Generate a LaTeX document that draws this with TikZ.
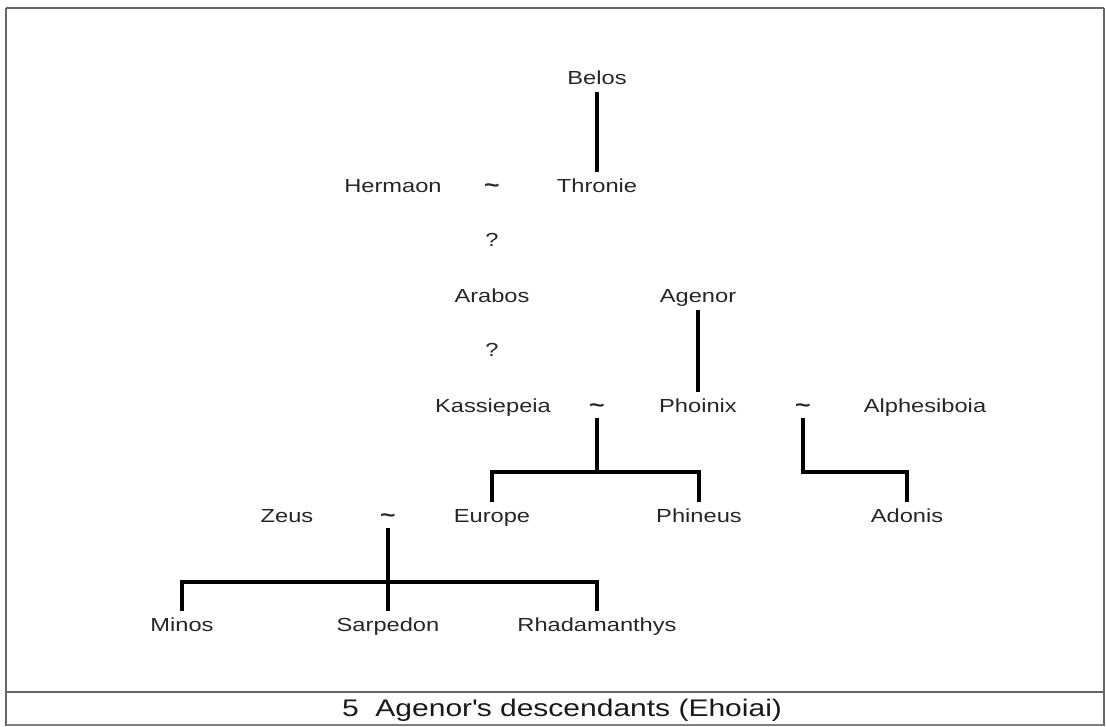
\documentclass[tikz,border=0pt]{standalone}
\usepackage{fontspec}
\setmainfont{Liberation Sans}[FakeStretch=1.25]
\begin{document}
\begin{tikzpicture}[x=0.75pt,y=-0.75pt,
  nm/.style={font=\fontsize{14.2}{16}\selectfont, text=black!85, inner xsep=1pt, inner ysep=5.5pt, text height=10pt, text depth=0pt, anchor=center},
  tl/.style={nm, font=\fontsize{16}{16}\selectfont\bfseries, inner ysep=4pt},
  ln/.style={line width=2.4pt, black},
  frame/.style={line width=1.6pt, black!60}]
\useasboundingbox (0,0) rectangle (1106,726);
\draw[frame] (6,8) -- (1104,8);
\draw[frame] (6,8) -- (6,726);
\draw[frame] (1104,8) -- (1104,726);
\draw[frame] (6,692) -- (1104,692);
\draw[line width=0.8pt, black!50] (6,725) -- (1104,725);
\node[font=\fontsize{18}{20}\selectfont, text=black!90] (cap) at (562,710) {5\hspace{0.7em}Agenor\textquotesingle s descendants (Ehoiai)};

\node[nm] (belos) at (597,78) {Belos};
\node[nm] (hermaon) at (393,186) {Hermaon};
\node[tl] (t1) at (492,186) {\textasciitilde};
\node[nm] (thronie) at (597,186) {Thronie};
\node[nm] (q1) at (492,240) {?};
\node[nm] (arabos) at (492,296) {Arabos};
\node[nm] (agenor) at (698,296) {Agenor};
\node[nm] (q2) at (492,350) {?};
\node[nm] (kass) at (493,406) {Kassiepeia};
\node[tl] (t2) at (597,406) {\textasciitilde};
\node[nm] (phoinix) at (698,406) {Phoinix};
\node[tl] (t4) at (803,406) {\textasciitilde};
\node[nm] (alph) at (925,406) {Alphesiboia};
\node[nm] (europe) at (492,516) {Europe};
\node[nm] (phineus) at (699,516) {Phineus};
\node[nm] (adonis) at (907,516) {Adonis};
\node[nm] (zeus) at (287,516) {Zeus};
\node[tl] (t3) at (388,516) {\textasciitilde};
\node[nm] (minos) at (182,625) {Minos};
\node[nm] (sarp) at (388,625) {Sarpedon};
\node[nm] (rhad) at (597,625) {Rhadamanthys};

\coordinate (j2) at (597,472);
\coordinate (j4) at (803,472);
\coordinate (j3) at (388,582);

\draw[ln] (belos.south) -- (thronie.north);
\draw[ln] (agenor.south) -- (phoinix.north);
\draw[ln] (t2.south) -- (j2);
\draw[ln] (europe.north) |- (j2) -| (phineus.north);
\draw[ln] (t4.south) -- (j4) -| (adonis.north);
\draw[ln] (t3.south) -- (sarp.north);
\draw[ln] (minos.north) |- (j3) -| (rhad.north);
\end{tikzpicture}
\end{document}
